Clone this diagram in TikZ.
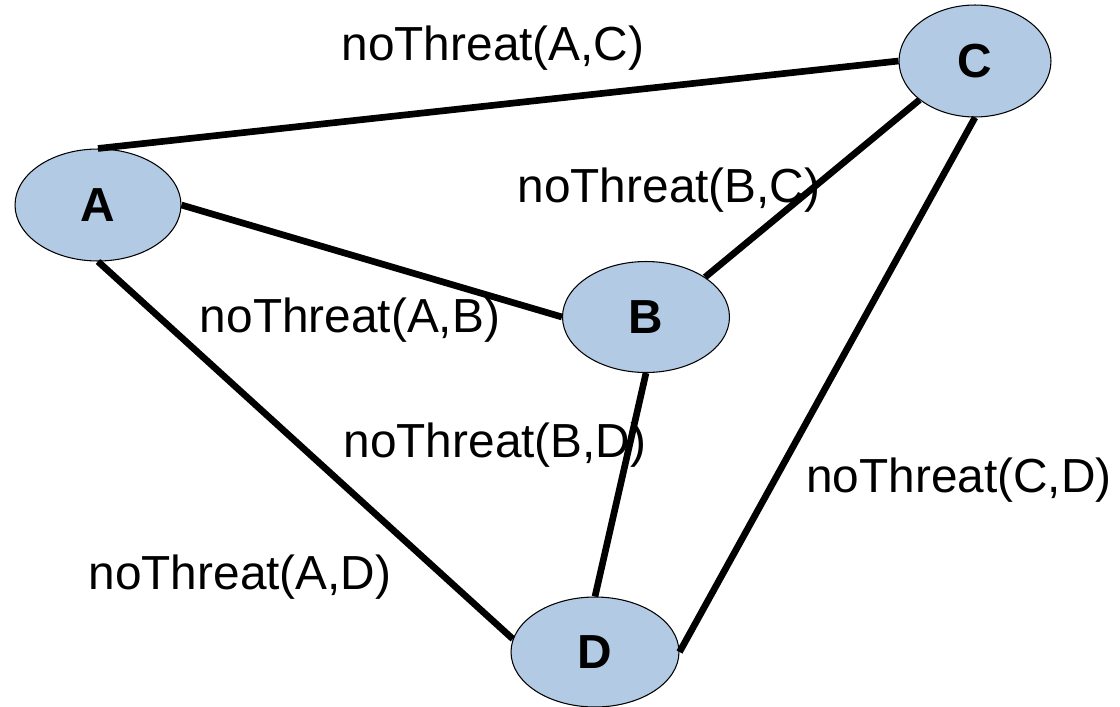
\documentclass[tikz,border=0pt]{standalone}
\usepackage{fontspec}
\setmainfont{Liberation Sans}
\usetikzlibrary{shapes.geometric}
\definecolor{nodefill}{RGB}{178,202,228}
\tikzset{
  vert/.style={ellipse, draw=black, line width=0.6pt, fill=nodefill, inner sep=0pt,
    font=\fontsize{27.2}{32}\selectfont\bfseries},
  edge/.style={line width=3.8pt},
  lbl/.style={font=\fontsize{27.2}{32}\selectfont, inner sep=0pt}
}
\begin{document}
\begin{tikzpicture}[x=0.02cm, y=-0.02cm]
\useasboundingbox (0,0) rectangle (1120,707);
\node[vert, minimum width=3.32cm, minimum height=2.24cm] (A) at (98,205) {A};
\node[vert, minimum width=3.34cm, minimum height=2.22cm] (B) at (646,317) {B};
\node[vert, minimum width=3.04cm, minimum height=2.24cm] (C) at (975,61) {C};
\node[vert, minimum width=3.36cm, minimum height=2.2cm] (D) at (595,652) {D};
\draw[edge] (A.north) -- (C.west);
\draw[edge] (A.east) -- (B.west);
\draw[edge] (A.south) -- (D.171);
\draw[edge] (B.34) -- (C.215);
\draw[edge] (B.south) -- (D.north);
\draw[edge] (C.south) -- (D.east);
\node[lbl] (lAC) at (493,48) {noThreat(A,C)};
\node[lbl] (lBC) at (669,190) {noThreat(B,C)};
\node[lbl] (lAB) at (350,320) {noThreat(A,B)};
\node[lbl] (lBD) at (495,445) {noThreat(B,D)};
\node[lbl] (lCD) at (959,480) {noThreat(C,D)};
\node[lbl] (lAD) at (240,577) {noThreat(A,D)};
\end{tikzpicture}
\end{document}
